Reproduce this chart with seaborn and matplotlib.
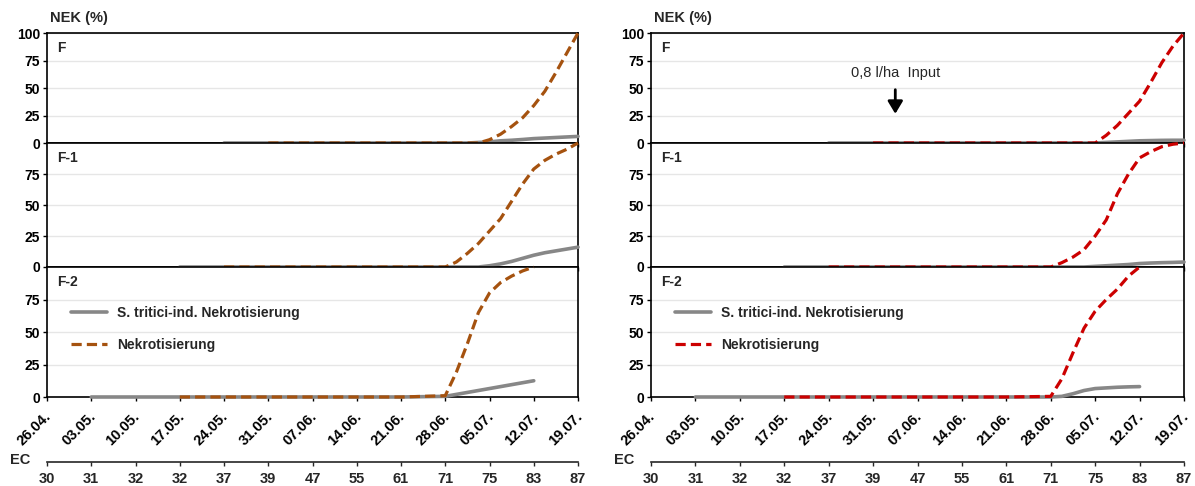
"""NEK curves for leaf layers F, F-1, F-2 (two variants side by side)."""

import matplotlib

matplotlib.use("Agg", force=True)

import matplotlib.pyplot as plt
import matplotlib.transforms as mtransforms
import numpy as np
import pandas as pd
import seaborn as sns

nan = np.nan

# days since 26.04.; weekly until 21.06., then finer steps
DAYS = [0, 7, 14, 21, 28, 35, 42, 49, 56,
        63, 64.75, 66.5, 68.25, 70, 71.75, 73.5, 75.25, 77, 78.75, 80.5, 82.25, 84]
TICK_DAYS = [0, 7, 14, 21, 28, 35, 42, 49, 56, 63, 70, 77, 84]
DATE_LABELS = ["26.04.", "03.05.", "10.05.", "17.05.", "24.05.", "31.05.", "07.06.",
               "14.06.", "21.06.", "28.06.", "05.07.", "12.07.", "19.07."]
EC_LABELS = ["30", "31", "32", "32", "37", "39", "47", "55", "61", "71", "75", "83", "87"]
LEAVES = ["F", "F-1", "F-2"]

# left panel
left_f_sep = [nan, nan, nan, nan, 0, 0, 0, 0, 0,
              0, 0, 0, 0.5, 1, 2, 2.5, 3.2, 4, 4.5, 5, 5.5, 6]
left_f_nek = [nan, nan, nan, nan, nan, 0, 0, 0, 0,
              0, 0, 0, 0, 3, 8, 15, 23, 34, 47, 64, 82, 100]
left_f1_sep = [nan, nan, nan, 0, 0, 0, 0, 0, 0,
               0, 0, 0, 0, 1, 2.5, 4.5, 7, 9.5, 11.5, 13, 14.5, 16]
left_f1_nek = [nan, nan, nan, nan, 0, 0, 0, 0, 0,
               0, 4, 11, 19, 29, 39, 53, 67, 79, 86, 91, 95, 100]
left_f2_sep = [nan, 0, 0, 0, 0, 0, 0, 0, 0,
               0.5, 2, 3.5, 5, 6.5, 8, 9.5, 11, 12.5, nan, nan, nan, nan]
left_f2_nek = [nan, nan, nan, 0, 0, 0, 0, 0, 0,
               1, 19, 41, 65, 80, 88, 93, 97, 100, nan, nan, nan, nan]

# right panel
right_f_sep = [nan, nan, nan, nan, 0, 0, 0, 0, 0,
               0, 0, 0, 0, 0, 0.5, 1, 1.5, 2, 2.2, 2.4, 2.5, 2.5]
right_f_nek = [nan, nan, nan, nan, nan, 0, 0, 0, 0,
               0, 0, 0, 0, 0, 7, 16, 27, 38, 55, 73, 88, 100]
right_f1_sep = [nan, nan, nan, 0, 0, 0, 0, 0, 0,
                0, 0, 0, 0, 0.5, 1, 1.5, 2, 2.8, 3.2, 3.5, 3.7, 4]
right_f1_nek = [nan, nan, nan, nan, 0, 0, 0, 0, 0,
                0, 3.5, 8, 14, 25, 38, 59, 75, 88, 93, 97, 99, 100]
right_f2_sep = [nan, 0, 0, 0, 0, 0, 0, 0, 0,
                0, 0.5, 2.5, 5, 6.5, 7, 7.5, 7.8, 8, nan, nan, nan, nan]
right_f2_nek = [nan, nan, nan, 0, 0, 0, 0, 0, 0,
                0.5, 14, 34, 53, 66, 75, 83, 93, 100, nan, nan, nan, nan]

SEP_LABEL = "S. tritici-ind. Nekrotisierung"
NEK_LABEL = "Nekrotisierung"
GRAY = "#878787"
BROWN = "#A5520F"
RED = "#CC0000"

sns.set_style("ticks")
plt.rcParams["font.family"] = ["Liberation Sans", "DejaVu Sans"]
plt.rcParams["font.weight"] = "bold"
plt.rcParams["axes.linewidth"] = 1.2

W, H = 1195, 486
fig = plt.figure(figsize=(W / 100, H / 100), dpi=100)
shift_left = mtransforms.ScaledTranslation(-3 / 100, 0, fig.dpi_scale_trans)

# pixel rows of the three stacked axes (top, bottom)
ROWS = [(33, 143), (143, 267), (267, 397)]
PANELS = [
    dict(x0=47, x1=578, color=BROWN,
         series=[(left_f_sep, left_f_nek), (left_f1_sep, left_f1_nek), (left_f2_sep, left_f2_nek)]),
    dict(x0=651, x1=1184, color=RED,
         series=[(right_f_sep, right_f_nek), (right_f1_sep, right_f1_nek), (right_f2_sep, right_f2_nek)]),
]

for p_idx, panel in enumerate(PANELS):
    axes = []
    for i, (top, bottom) in enumerate(ROWS):
        ax = fig.add_axes([panel["x0"] / W, 1 - bottom / H,
                           (panel["x1"] - panel["x0"]) / W, (bottom - top) / H])
        sep, nek = panel["series"][i]
        df = pd.DataFrame({"day": DAYS, "sep": sep, "nek": nek})
        last = i == 2
        sns.lineplot(data=df.dropna(subset=["sep"]), x="day", y="sep", ax=ax,
                     color=GRAY, linewidth=2.6, label=SEP_LABEL if last else None,
                     legend=last, clip_on=False, zorder=3)
        sns.lineplot(data=df.dropna(subset=["nek"]), x="day", y="nek", ax=ax,
                     color=panel["color"], linewidth=2.3, linestyle=(0, (3.2, 1.6)),
                     label=NEK_LABEL if last else None, legend=last,
                     clip_on=False, zorder=4)
        ax.set_xlim(0, 84)
        ax.set_ylim(0, 100)
        ax.set_xlabel("")
        ax.set_ylabel("")
        ax.set_yticks([0, 25, 50, 75, 100] if i == 0 else [0, 25, 50, 75])
        ax.set_xticks(TICK_DAYS)
        ax.grid(axis="y", color="#e6e6e6", linewidth=1)
        ax.set_axisbelow(True)
        for sp in ax.spines.values():
            sp.set_visible(True)
            sp.set_color("black")
            sp.set_linewidth(1.2)
        ax.tick_params(axis="both", direction="out", length=3, width=1,
                       labelsize=10, pad=2, colors="black")
        if last:
            ax.set_xticklabels(DATE_LABELS, rotation=45, ha="right",
                               rotation_mode="anchor", va="top", fontsize=10.5)
            ax.tick_params(axis="x", pad=6)
            for lbl in ax.get_xticklabels():
                lbl.set_transform(lbl.get_transform() + shift_left)
        else:
            ax.set_xticklabels([])
        ax.annotate(LEAVES[i], xy=(0, 1), xycoords="axes fraction", xytext=(7, -6),
                    textcoords="offset points", va="top", ha="left",
                    fontsize=10, fontweight="bold")
        axes.append(ax)

    bottom_ax = axes[2]
    handles, labels = bottom_ax.get_legend_handles_labels()
    bottom_ax.legend(handles, labels, loc="upper left", bbox_to_anchor=(0.045, 0.70),
                     frameon=False, handlelength=2.6, handletextpad=0.7,
                     labelspacing=1.3, borderpad=0, borderaxespad=0,
                     prop={"weight": "bold", "size": 10})

    sec = bottom_ax.secondary_xaxis(-0.5)
    sec.set_xticks(TICK_DAYS, labels=EC_LABELS)
    sec.tick_params(direction="out", length=3, width=1, labelsize=10.5, pad=4)
    sec.spines["bottom"].set_linewidth(1.2)

    fig.text((panel["x0"] + 3) / W, 1 - 18 / H, "NEK (%)", ha="left", va="center",
             fontsize=10.5, fontweight="bold")
    fig.text((panel["x0"] - 37) / W, 1 - 460 / H, "EC", ha="left", va="center",
             fontsize=10.5, fontweight="bold")

    if p_idx == 1:
        top_ax = axes[0]
        top_ax.annotate("", xy=(38.5, 24), xytext=(38.5, 51),
                        arrowprops=dict(arrowstyle="-|>,head_width=0.45,head_length=0.75",
                                        color="black", lw=2))
        top_ax.text(38.5, 64, "0,8 l/ha  Input", ha="center", va="center",
                    fontsize=10.5, fontweight="normal")

fig.savefig("out.png", dpi=100)
